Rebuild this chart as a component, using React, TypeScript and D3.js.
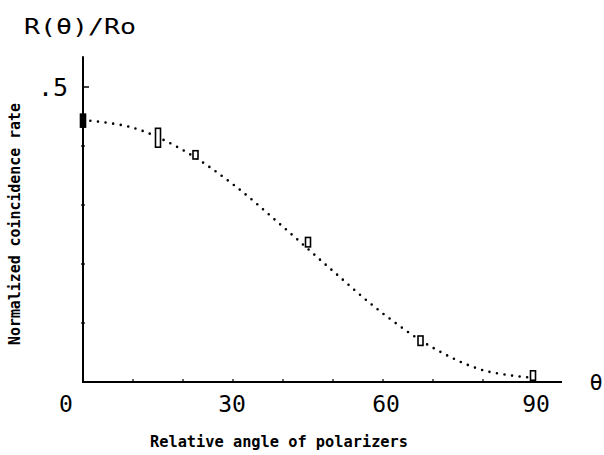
import React from "react";
import * as d3 from "d3";

// Measured data points (angle in degrees, normalized rate, half error bar)
const angles = [0, 15, 22.5, 45, 67.5, 90];
const rates = [0.443, 0.414, 0.385, 0.237, 0.07, 0.011];
const errors = [0.011, 0.016, 0.007, 0.008, 0.008, 0.008];
const filled = [true, false, false, false, false, false];

// Theoretical curve (every 10 degrees)
const curveAngles = [0, 10, 20, 30, 40, 50, 60, 70, 80, 90];
const curveRates = [0.444, 0.431, 0.393, 0.335, 0.263, 0.188, 0.116, 0.058, 0.02, 0.007];

const xTickLabels = [0, 30, 60, 90];
const xMinorTicks = [10, 20, 30, 40, 50, 60, 70, 80, 90];
const yMinorTicks = [0.1, 0.2, 0.3, 0.4];

const W = 604;
const H = 455;

export default function App() {
  const x = d3.scaleLinear().domain([0, 90]).range([83, 533]);
  const y = d3.scaleLinear().domain([0, 0.5]).range([382, 87]);
  const xEnd = x(95.8);
  const yTop = y(0.552);

  const line = d3
    .line<number>()
    .x((_, i) => x(curveAngles[i]))
    .y((d) => y(d))
    .curve(d3.curveCatmullRom);

  const mono = "'DejaVu Sans Mono', 'Liberation Mono', monospace";

  return (
    <svg
      width={W}
      height={H}
      style={{ position: "absolute", left: 0, top: 0, background: "#fff" }}
    >
      <rect x={0} y={0} width={W} height={H} fill="#fff" />
      {/* top-left y label */}
      <text
        x={24}
        y={34}
        fontFamily={mono}
        fontSize={21}
        textLength={112}
        lengthAdjust="spacingAndGlyphs"
        fill="#000"
      >
        R(θ)/Ro
      </text>
      {/* axes */}
      <line x1={x(0)} y1={yTop} x2={x(0)} y2={y(0) + 1} stroke="#000" strokeWidth={2} />
      <line x1={x(0)} y1={y(0)} x2={xEnd} y2={y(0)} stroke="#000" strokeWidth={2} />
      {xMinorTicks.map((t) => (
        <line key={"xt" + t} x1={x(t)} x2={x(t)} y1={y(0)} y2={y(0) - 3} stroke="#000" strokeWidth={1.2} />
      ))}
      {yMinorTicks.map((t) => (
        <line key={"yt" + t} x1={x(0) - 2} x2={x(0) + 2} y1={y(t)} y2={y(t)} stroke="#000" strokeWidth={1.2} />
      ))}
      <line x1={x(0)} x2={x(0) + 6} y1={y(0.5)} y2={y(0.5)} stroke="#000" strokeWidth={1.5} />
      <text x={68} y={y(0.5) + 9} textAnchor="end" fontFamily={mono} fontSize={25} fill="#000">
        .5
      </text>
      {xTickLabels.map((t, i) => (
        <text
          key={"xl" + t}
          x={x(t) + (i === 0 ? -17 : i === 1 ? -1 : i === 2 ? 3 : 3)}
          y={412}
          textAnchor="middle"
          fontFamily={mono}
          fontSize={23}
          fill="#000"
        >
          {t}
        </text>
      ))}
      <text x={596} y={390} textAnchor="middle" fontFamily={mono} fontSize={22} fill="#000">
        θ
      </text>
      {/* axis titles */}
      <text
        x={279}
        y={447}
        textAnchor="middle"
        fontFamily={mono}
        fontWeight="bold"
        fontSize={15}
        textLength={258}
        lengthAdjust="spacingAndGlyphs"
        fill="#000"
      >
        Relative angle of polarizers
      </text>
      <text
        transform="translate(20,224) rotate(-90)"
        textAnchor="middle"
        fontFamily={mono}
        fontWeight="bold"
        fontSize={15}
        textLength={242}
        lengthAdjust="spacingAndGlyphs"
        fill="#000"
      >
        Normalized coincidence rate
      </text>
      {/* dotted theoretical curve */}
      <path
        d={line(curveRates) || ""}
        fill="none"
        stroke="#000"
        strokeWidth={2.6}
        strokeLinecap="round"
        strokeDasharray="0 7.6"
      />
      {/* data points */}
      {angles.map((a, i) => {
        const top = y(rates[i] + errors[i]);
        const bot = y(rates[i] - errors[i]);
        return (
          <rect
            key={"p" + i}
            x={x(a) - 2.5}
            y={top}
            width={5}
            height={bot - top}
            fill={filled[i] ? "#000" : "#fff"}
            stroke="#000"
            strokeWidth={1.6}
          />
        );
      })}
    </svg>
  );
}
